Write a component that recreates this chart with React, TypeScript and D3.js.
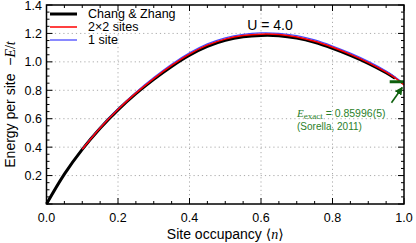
import React from 'react';
import * as d3 from 'd3';

// site occupancy grid
const occupancy = [0, 0.05, 0.1, 0.15, 0.2, 0.25, 0.3, 0.35, 0.4, 0.45, 0.5, 0.55, 0.6, 0.65, 0.7, 0.75, 0.8, 0.85, 0.9, 0.95, 0.975, 1.0];

// energy per site -E/t (null = no value)
const changZhang = [0, 0.21, 0.384, 0.533, 0.662, 0.776, 0.877, 0.968, 1.047, 1.109, 1.151, 1.176, 1.186, 1.184, 1.167, 1.137, 1.095, 1.046, 0.99, 0.924, 0.885, null];
const twoByTwo = [null, null, 0.385, 0.535, 0.665, 0.78, 0.8825, 0.975, 1.055, 1.1175, 1.16, 1.185, 1.195, 1.1925, 1.175, 1.145, 1.1025, 1.0525, 0.995, 0.9275, 0.887, 0.838];
const oneSite = [null, null, 0.386, 0.537, 0.668, 0.785, 0.889, 0.983, 1.063, 1.126, 1.169, 1.194, 1.204, 1.201, 1.184, 1.154, 1.111, 1.061, 1.003, 0.935, 0.894, 0.845];

const exactEnergy = 0.86;

const xTicks = [0, 0.2, 0.4, 0.6, 0.8, 1.0];
const yTicks = [0.2, 0.4, 0.6, 0.8, 1.0, 1.2, 1.4];

const series = [
  { name: 'Chang & Zhang', values: changZhang, color: '#000000', width: 3 },
  { name: '1 site', values: oneSite, color: '#4a4aff', width: 1.3 },
  { name: '2\u00d72 sites', values: twoByTwo, color: '#ff0000', width: 1.5 },
];
const legendOrder = ['Chang & Zhang', '2\u00d72 sites', '1 site'];

export default function App() {
  const width = 416;
  const height = 243;
  const left = 46.5;
  const right = 404;
  const top = 5;
  const bottom = 204;

  const x = d3.scaleLinear().domain([0, 1]).range([left, right]);
  const y = d3.scaleLinear().domain([0, 1.4]).range([bottom, top]);

  const minorX = d3.range(0, 1.0001, 0.05);
  const minorY = d3.range(0, 1.4001, 0.05);

  const line = d3.line<[number, number | null]>()
    .defined(d => d[1] !== null)
    .x(d => x(d[0]))
    .y(d => y(d[1] as number))
    .curve(d3.curveCatmullRom.alpha(0.5));

  const green = '#0d600d';
  const textGreen = '#2b7f2b';

  return (
    <svg width={width} height={height} style={{ position: 'absolute', left: 0, top: 0 }}
      fontFamily="'Liberation Sans', Arial, sans-serif">
      <rect x={0} y={0} width={width} height={height} fill="#fff" />

      {/* grid */}
      {xTicks.filter(t => t > 0 && t < 1).map(t => (
        <line key={'gx' + t} x1={x(t)} x2={x(t)} y1={top} y2={bottom}
          stroke="#aaa" strokeDasharray="1.2,3" />
      ))}
      {yTicks.filter(t => t < 1.4).map(t => (
        <line key={'gy' + t} x1={left} x2={right} y1={y(t)} y2={y(t)}
          stroke="#aaa" strokeDasharray="1.2,3" />
      ))}

      {/* ticks, inside on all sides */}
      {minorX.map((t, i) => {
        const len = i % 4 === 0 ? 6 : 3;
        return (
          <g key={'tx' + i} stroke="#000" strokeWidth={1}>
            <line x1={x(t)} x2={x(t)} y1={bottom} y2={bottom - len} />
            <line x1={x(t)} x2={x(t)} y1={top} y2={top + len} />
          </g>
        );
      })}
      {minorY.map((t, i) => {
        const len = i % 4 === 0 ? 6 : 3;
        return (
          <g key={'ty' + i} stroke="#000" strokeWidth={1}>
            <line x1={left} x2={left + len} y1={y(t)} y2={y(t)} />
            <line x1={right} x2={right - len} y1={y(t)} y2={y(t)} />
          </g>
        );
      })}

      {/* curves */}
      {series.map(s => (
        <path key={s.name}
          d={line(occupancy.map((n, i) => [n, s.values[i]] as [number, number | null])) || ''}
          fill="none" stroke={s.color} strokeWidth={s.width} />
      ))}

      {/* exact value marker */}
      <line x1={x(0.96)} x2={x(1.0)} y1={y(exactEnergy)} y2={y(exactEnergy)} stroke={green} strokeWidth={3} />
      <defs>
        <marker id="arr" viewBox="0 0 10 10" refX={9} refY={5} markerWidth={5} markerHeight={5} orient="auto">
          <path d="M0,0 L10,5 L0,10 z" fill={green} />
        </marker>
      </defs>
      <line x1={x(0.965)} y1={y(0.712)} x2={x(0.995)} y2={y(0.82)} stroke={green} strokeWidth={1.6} markerEnd="url(#arr)" />
      <text x={297} y={117} fill={textGreen} fontSize={10.5}>
        <tspan fontFamily="'Liberation Serif', serif" fontStyle="italic" fontSize={11}>E</tspan>
        <tspan fontFamily="'Liberation Serif', serif" fontSize={9} dy={2}>exact</tspan>
        <tspan dy={-2}> = 0.85996(5)</tspan>
      </text>
      <text x={297} y={130} fill={textGreen} fontSize={10}>(Sorella, 2011)</text>

      {/* frame */}
      <rect x={left} y={top} width={right - left} height={bottom - top} fill="none" stroke="#000" strokeWidth={1.5} />

      {/* tick labels */}
      {xTicks.map(t => (
        <text key={'lx' + t} x={x(t)} y={222} textAnchor="middle" fontSize={12.5}>{t.toFixed(1)}</text>
      ))}
      {yTicks.map(t => (
        <text key={'ly' + t} x={42} y={y(t)} dy="0.36em" textAnchor="end" fontSize={12.5}>{t.toFixed(1)}</text>
      ))}

      {/* axis titles */}
      <text x={(left + right) / 2} y={239} textAnchor="middle" fontSize={14}>
        Site occupancy <tspan fontFamily="'DejaVu Serif', serif">{'\u27e8'}</tspan>
        <tspan fontFamily="'Liberation Serif', serif" fontStyle="italic">n</tspan>
        <tspan fontFamily="'DejaVu Serif', serif">{'\u27e9'}</tspan>
      </text>
      <text transform={`translate(15, ${(top + bottom) / 2}) rotate(-90)`} textAnchor="middle" fontSize={14}>
        Energy per site{'\u00a0\u00a0'}{'\u2212'}
        <tspan fontFamily="'Liberation Serif', serif" fontStyle="italic">E</tspan>
        <tspan fontFamily="'Liberation Serif', serif">/</tspan>
        <tspan fontFamily="'Liberation Serif', serif" fontStyle="italic">t</tspan>
      </text>

      {/* U label */}
      <text x={270} y={30} textAnchor="middle" fontSize={14}>U = 4.0</text>

      {/* legend */}
      {legendOrder.map((name, i) => {
        const s = series.find(d => d.name === name)!;
        const ly = 14 + i * 13;
        return (
          <g key={'lg' + name}>
            <line x1={50} x2={77} y1={ly} y2={ly} stroke={s.color} strokeWidth={s.width} />
            <text x={88} y={ly} dy="0.35em" fontSize={12.5}>{name}</text>
          </g>
        );
      })}
    </svg>
  );
}
